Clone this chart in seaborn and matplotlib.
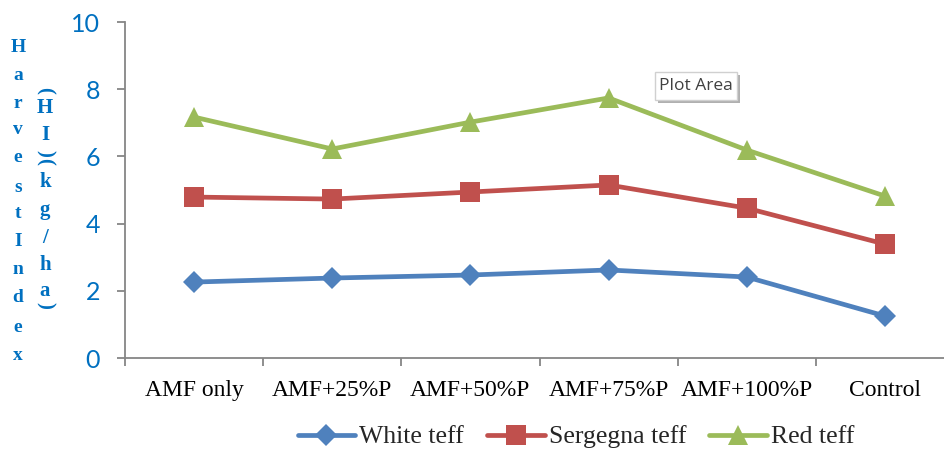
import numpy as np
import pandas as pd
import matplotlib
matplotlib.use("Agg")
import matplotlib.pyplot as plt
import matplotlib.patches as mpatches
import seaborn as sns

# Podaci
treatments = ["AMF only", "AMF+25%P", "AMF+50%P", "AMF+75%P", "AMF+100%P", "Control"]
white_teff = [2.26, 2.38, 2.47, 2.62, 2.41, 1.25]
sergegna_teff = [4.79, 4.73, 4.94, 5.15, 4.46, 3.39]
red_teff = [7.17, 6.22, 7.02, 7.74, 6.19, 4.82]
varieties = ["White teff", "Sergegna teff", "Red teff"]
colors = {"White teff": "#4F81BD", "Sergegna teff": "#C0504D", "Red teff": "#9BBB59"}
markers = {"White teff": "D", "Sergegna teff": "s", "Red teff": "^"}

df = pd.DataFrame({
    "Treatment": treatments * 3,
    "Value": white_teff + sergegna_teff + red_teff,
    "Variety": [v for v in varieties for _ in treatments],
})

sns.set_style("white")
plt.rcParams["font.family"] = ["Liberation Serif", "DejaVu Sans"]

fig = plt.figure(figsize=(9.44, 4.5), dpi=100)
ax = fig.add_axes([125 / 944, 92 / 450, 829 / 944, 336 / 450])

sns.lineplot(data=df, x="Treatment", y="Value", hue="Variety", style="Variety",
             palette=colors, markers=markers, dashes=False, linewidth=3.4,
             markersize=14, markeredgewidth=0, sort=False, ax=ax)
for line in ax.lines:
    if line.get_marker() == "D":
        line.set_markersize(11)

ax.set_xlim(-0.5, 5.5)
ax.set_ylim(0, 10)
ax.set_yticks([0, 2, 4, 6, 8, 10])
ax.set_xlabel("")
ax.set_ylabel("")

# osovine u Excel stilu
for s in ["top", "right"]:
    ax.spines[s].set_visible(False)
for s in ["left", "bottom"]:
    ax.spines[s].set_color("#868686")
    ax.spines[s].set_linewidth(1.3)

ax.set_xticks(range(6))
ax.set_xticklabels(treatments, fontsize=17, color="black")
ax.set_xticks(np.arange(-0.5, 6, 1), minor=True)
ax.tick_params(axis="x", which="major", length=0, pad=16)
ax.tick_params(axis="x", which="minor", length=6, width=1.3, color="#868686",
               direction="out", bottom=True)
ax.tick_params(axis="y", which="major", length=6, width=1.3, color="#868686",
               direction="out", left=True, pad=12)
for lbl in ax.get_yticklabels():
    lbl.set_fontfamily("Lato")
    lbl.set_fontsize(18)
    lbl.set_color("#0070C0")

# legenda dole
handles, labels = ax.get_legend_handles_labels()
ax.get_legend().remove()
fig.legend(handles, labels, loc="center", bbox_to_anchor=(576 / 944, 1 - 437 / 450),
           ncol=3, frameon=False, fontsize=18.5, handlelength=2.25,
           columnspacing=0.9, handletextpad=0.15)

# vertikalna oznaka y ose (slovo po slovo)
blue = "#0070C0"
col1 = "HarvestIndex"
y1 = [47, 75, 103, 130, 158, 187, 213, 242, 270, 298, 327, 355]
for ch, yp in zip(col1, y1):
    fig.text(18 / 944, 1 - yp / 450, ch, ha="center", va="center",
             fontsize=14, fontweight="bold", color=blue)

col2 = ["(", "H", "I", ")", "(", "k", "g", "/", "h", "a", ")"]
y2 = [90, 108, 135, 153, 161, 182, 210, 238, 265, 291, 305]
for ch, yp in zip(col2, y2):
    rot = -90 if ch in "()" else 0
    fig.text(45 / 944, 1 - yp / 450, ch, ha="center", va="center",
             fontsize=15, fontweight="bold", color=blue, rotation=rot)

# "Plot Area" oblacic (senka + okvir)
bx, by, bw, bh = 655, 72, 82, 28
fig.patches.append(mpatches.Rectangle(((bx + 3) / 944, 1 - (by + bh + 3) / 450),
                                      bw / 944, bh / 450, transform=fig.transFigure,
                                      facecolor="#b0b0b0", edgecolor="none", zorder=5))
fig.patches.append(mpatches.Rectangle((bx / 944, 1 - (by + bh) / 450),
                                      bw / 944, bh / 450, transform=fig.transFigure,
                                      facecolor="white", edgecolor="#d0d0d0",
                                      linewidth=1, zorder=6))
fig.text((bx + bw / 2) / 944, 1 - (by + bh / 2) / 450, "Plot Area", ha="center",
         va="center", fontsize=12.5, family="Open Sans", color="#404040", zorder=7)

fig.savefig("out.png", dpi=100)
